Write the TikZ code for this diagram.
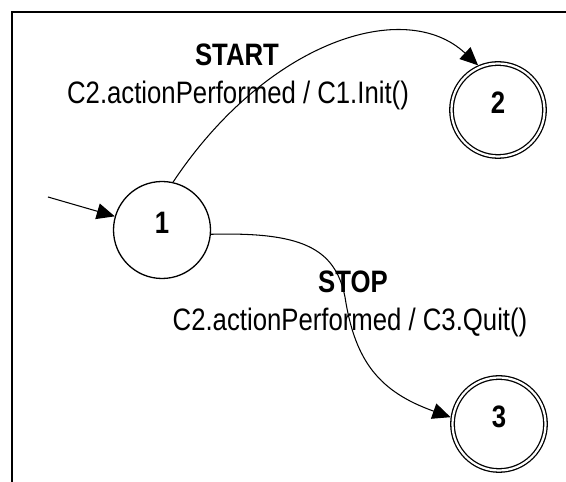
\documentclass[tikz,border=0pt]{standalone}
\usepackage{fontspec}
\setmainfont{Liberation Sans}[FakeStretch=0.83]
\usetikzlibrary{arrows.meta}
\begin{document}
\begin{tikzpicture}[x=1pt,y=1pt,
  state/.style={draw, circle, line width=1.3pt, minimum size=97pt, inner sep=0pt,
    text height=22pt, text depth=15pt,
    font=\fontsize{31}{31}\selectfont\bfseries},
  final/.style={state, double, double distance=2.2pt, minimum size=93pt, outer sep=2.4pt},
  arr/.style={line width=1.05pt, -{Triangle[length=18pt,width=16pt]}},
  lbl/.style={font=\fontsize{31}{31}\selectfont, inner sep=0pt},
  ttl/.style={font=\fontsize{31}{31}\selectfont\bfseries, inner sep=0pt}]
\useasboundingbox (0,0) rectangle (566,482);
\draw[line width=1.4pt] (12,-5) -- (12,470) -- (570,470);

\node[state] (n1) at (162,252) {1};
\node[final] (n2) at (498,372) {2};
\node[final] (n3) at (499,58) {3};

\coordinate (init) at (48,285);
\draw[arr] (init) -- (n1);

\draw[arr] (n1.77) .. controls (267,441) and (405,485) .. (n2.114);
\draw[arr] (n1.-5) .. controls (300,250) and (335,235) .. (345,185)
  .. controls (355,120) and (380,90) .. (n3.172);

\node[ttl] (startlbl) at (237,427) {START};
\node[lbl] (startact) at (238,387) {C2.actionPerformed / C1.Init()};
\node[ttl] (stoplbl) at (353,200) {STOP};
\node[lbl] (stopact) at (350,160) {C2.actionPerformed / C3.Quit()};
\end{tikzpicture}
\end{document}
